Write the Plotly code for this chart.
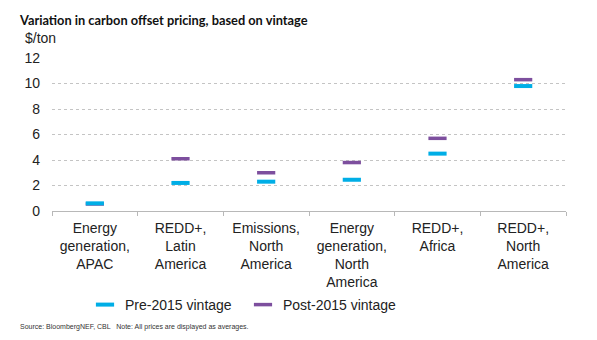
import plotly.graph_objects as go

categories = [
    "Energy<br>generation,<br>APAC",
    "REDD+,<br>Latin<br>America",
    "Emissions,<br>North<br>America",
    "Energy<br>generation,<br>North<br>America",
    "REDD+,<br>Africa",
    "REDD+,<br>North<br>America",
]
pre_2015 = [0.6, 2.2, 2.3, 2.45, 4.5, 9.8]
post_2015 = [0.55, 4.1, 3.0, 3.8, 5.7, 10.3]
y_ticks = [0, 2, 4, 6, 8, 10, 12]

CYAN = "#00aee6"
PURPLE = "#7d4f9e"
FONT = "Liberation Sans, Arial, sans-serif"

fig = go.Figure()
fig.add_trace(go.Scatter(
    x=categories, y=post_2015, mode="markers", name="Post-2015 vintage",
    marker=dict(symbol="line-ew", size=13, line=dict(width=3.5, color=PURPLE)),
    legendrank=2,
))
fig.add_trace(go.Scatter(
    x=categories, y=pre_2015, mode="markers", name="Pre-2015 vintage",
    marker=dict(symbol="line-ew", size=13, line=dict(width=4, color=CYAN)),
    legendrank=1,
))

fig.update_layout(
    width=597, height=340,
    margin=dict(l=52, r=31, t=58, b=129, autoexpand=False),
    paper_bgcolor="white", plot_bgcolor="white",
    font=dict(family=FONT, color="#222", size=13),
    showlegend=True,
    legend=dict(
        orientation="h", xref="container", x=85/597, xanchor="left",
        yref="container", y=1 - 305/340, yanchor="middle",
        font=dict(size=14, color="#222"), itemwidth=30,
        entrywidth=113, entrywidthmode="pixels", traceorder="normal",
        bgcolor="rgba(0,0,0,0)",
    ),
    xaxis=dict(
        type="category", tickson="boundaries", showgrid=False,
        showline=True, linecolor="#b8b8b8", linewidth=1,
        ticks="outside", ticklen=4, tickcolor="#b8b8b8",
        tickfont=dict(size=14, color="#222"), range=[-0.5, 5.5],
        ticklabelstandoff=4, automargin=False,
    ),
    yaxis=dict(
        range=[0, 12], tickvals=y_ticks, showline=False, zeroline=False,
        showgrid=True, gridcolor="#c4c4c4", griddash="dot", gridwidth=1,
        tickfont=dict(size=14, color="#222"), ticklabelstandoff=11,
        automargin=False,
    ),
)

fig.add_annotation(
    text="<b>Variation in carbon offset pricing, based on vintage</b>",
    xref="paper", yref="paper", x=(17 - 52)/514, y=1 + (58 - 20)/153,
    xanchor="left", yanchor="middle",
    showarrow=False, font=dict(family="Lato, sans-serif", size=12.8, color="#111"),
)
fig.add_annotation(
    text="$/ton", xref="paper", yref="paper", x=-29/514, y=1 + 20/153,
    xanchor="left", yanchor="middle", showarrow=False,
    font=dict(size=14, color="#222"),
)
fig.add_annotation(
    text="Source: BloombergNEF, CBL   Note: All prices are displayed as averages.",
    xref="paper", yref="paper", x=-34/514, y=-(327 - 211) / 153,
    xanchor="left", yanchor="middle", showarrow=False,
    font=dict(size=7, color="#333"),
)

fig.write_html("out.html")
